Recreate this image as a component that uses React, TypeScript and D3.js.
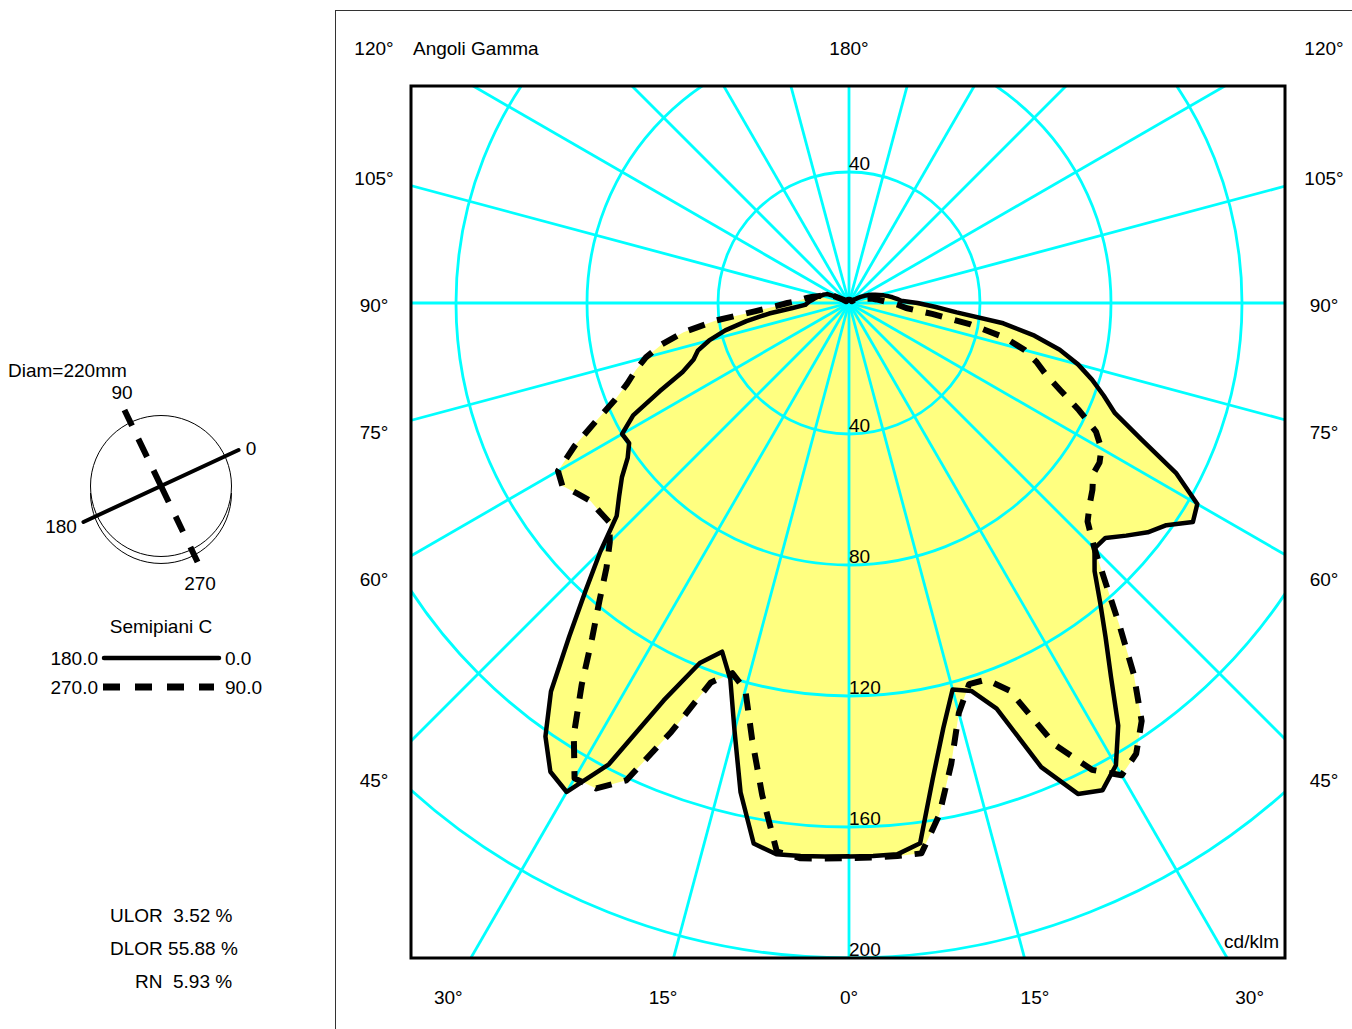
import React from "react";
import * as d3 from "d3";

// ---------- data ----------
const gammaAngles: number[] = d3.range(0, 180.001, 2.5);

// C180 (left, solid)
const intensityC180: number[] = [
  168.9, 169.2, 169.5, 169.8, 167.6, 153.0, 135.1, 120.5, 113.3, 119.0,
  133.9, 158.8, 172.4, 169.7, 161.6, 149.5, 132.9, 119.0, 107.4, 96.2,
  91.6, 87.4, 82.5, 79.6, 80.0, 74.3, 63.8, 55.0, 50.5, 48.4,
  44.2, 38.7, 31.8, 24.6, 17.3, 13.4, 12.7, 12.0, 11.2, 10.6,
  10.0, 9.4, 8.8, 8.3, 7.7, 7.1, 5.0, 2.5, 1.5, 1, 1, 1, 1, 1, 1, 1, 1, 1, 1,
  1, 1, 1, 1, 1, 1, 1, 1, 1, 1, 1, 1, 1, 1,
];
// C0 (right, solid)
const intensityC0: number[] = [
  169.0, 169.0, 169.0, 166.4, 147.4, 133.0, 122.2, 124.2, 131.8, 153.4,
  165.4, 167.7, 163.0, 153.0, 139.5, 128.7, 119.3, 111.0, 106.0, 106.2,
  110.5, 115.0, 118.3, 124.5, 122.8, 112.7, 98.5, 87.9, 82.8, 77.8,
  72.4, 65.9, 57.5, 47.5, 33.0, 26.2, 20.9, 15.9, 14.7, 13.4,
  12.1, 10.8, 9.5, 8.4, 7.3, 6.3, 5.2, 4.0, 3.0, 2.0, 1, 1, 1, 1, 1, 1, 1, 1, 1,
  1, 1, 1, 1, 1, 1, 1, 1, 1, 1, 1, 1, 1, 1,
];
// C270 (left, dashed)
const intensityC270: number[] = [
  169.5, 169.8, 170.2, 168.9, 152.6, 136.6, 122.3, 118.5, 123.3, 141.7,
  160.8, 167.1, 167.6, 156.4, 142.3, 128.8, 118.5, 109.6, 103.3, 99.2,
  99.3, 99.4, 101.4, 103.8, 102.6, 94.4, 85.2, 77.4, 72.1, 68.3,
  64.2, 58.6, 51.3, 41.0, 28.6, 22.4, 18.8, 15.4, 14.0, 12.6,
  11.2, 9.7, 8.6, 8.0, 7.5, 6.8, 5.0, 3.0, 2.0, 1, 1, 1, 1, 1, 1, 1, 1, 1, 1,
  1, 1, 1, 1, 1, 1, 1, 1, 1, 1, 1, 1, 1, 1,
];
// C90 (right, dashed)
const intensityC90: number[] = [
  169.5, 169.5, 169.5, 169.5, 158.7, 144.2, 129.6, 122.0, 122.4, 128.1,
  148.9, 160.7, 166.5, 163.2, 155.8, 142.8, 128.5, 116.0, 106.0, 98.8,
  95.9, 93.7, 91.0, 90.7, 89.0, 85.0, 77.5, 70.0, 64.0, 60.1,
  55.6, 48.6, 37.7, 25.6, 17.5, 15.3, 13.1, 11.0, 9.6, 8.4,
  7.3, 6.2, 5.0, 4.2, 3.5, 3.0, 2.5, 2.0, 1.5, 1, 1, 1, 1, 1, 1, 1, 1, 1, 1,
  1, 1, 1, 1, 1, 1, 1, 1, 1, 1, 1, 1, 1, 1,
];

const gridRadii: number[] = [40, 80, 120, 160, 200];
const bottomScaleLabels: number[] = [40, 80, 120, 160, 200];
const topScaleLabels: number[] = [40];
const radialLineAngles: number[] = d3.range(0, 360, 15);
const sideLabelAngles: number[] = [120, 105, 90, 75, 60, 45];
const bottomLabelAngles: number[] = [-30, -15, 0, 15, 30];
const statLines: string[] = ["ULOR  3.52 %", "DLOR 55.88 %", "RN  5.93 %"];

// ---------- layout ----------
const W = 1352;
const H = 1029;
const cx = 849;
const cy = 303;
const box = { x0: 411, y0: 86, x1: 1285, y1: 958 };
const FONT = "'Liberation Sans', Arial, Helvetica, sans-serif";
const FS = 19;
const CYAN = "#00ffff";
const YELLOW = "#ffff80";

const rScale = d3.scaleLinear().domain([0, 200]).range([0, 655]);
const rad = (deg: number) => (deg * Math.PI) / 180;

function polarPath(left: number[], right: number[]): string {
  const pts: [number, number][] = [];
  for (let i = gammaAngles.length - 1; i >= 0; i--)
    pts.push([Math.PI + rad(gammaAngles[i]), rScale(left[i])]);
  for (let i = 0; i < gammaAngles.length; i++)
    pts.push([Math.PI - rad(gammaAngles[i]), rScale(right[i])]);
  return (
    d3
      .lineRadial<[number, number]>()
      .angle((d) => d[0])
      .radius((d) => d[1])
      .curve(d3.curveLinear)(pts) || ""
  );
}

const solidPath = polarPath(intensityC180, intensityC0);
const dashedPath = polarPath(intensityC270, intensityC90);

const sideX = 475; // distance from centre to label column
const sideLabelY = (g: number) => Math.max(48, cy + sideX / Math.tan(rad(g)) + 2);
const bottomLabelX = (g: number) => cx + 694 * Math.tan(rad(g));

export default function App() {
  const txt = { fontFamily: FONT, fontSize: FS, fill: "#000" } as const;

  // disc schematic
  const dcx = 161;
  const dcy = 486;
  const dr = 70.5;
  const solidAng = rad(-24.9);
  const solidHalf = 85.5;
  const dashAng = rad(64.3);
  const dashHalf = 84.3;

  return (
    <svg
      width={W}
      height={H}
      viewBox={`0 0 ${W} ${H}`}
      style={{ position: "absolute", left: 0, top: 0, background: "#fff" }}
    >
      <rect x={0} y={0} width={W} height={H} fill="#fff" />
      {/* frame lines */}
      <line x1={335.5} y1={10} x2={335.5} y2={H} stroke="#333" strokeWidth={1} />
      <line x1={335} y1={10.5} x2={W} y2={10.5} stroke="#333" strokeWidth={1} />

      <defs>
        <clipPath id="plotClip">
          <rect x={box.x0} y={box.y0} width={box.x1 - box.x0} height={box.y1 - box.y0} />
        </clipPath>
      </defs>

      <g clipPath="url(#plotClip)">
        <g transform={`translate(${cx},${cy})`}>
          {/* fill (union of both curves) */}
          <path d={solidPath} fill={YELLOW} stroke="none" />
          <path d={dashedPath} fill={YELLOW} stroke="none" />
          {/* grid */}
          {gridRadii.map((v) => (
            <circle key={v} r={rScale(v)} fill="none" stroke={CYAN} strokeWidth={2.8} />
          ))}
          {radialLineAngles.map((a) => (
            <line
              key={a}
              x1={0}
              y1={0}
              x2={Math.sin(rad(a)) * 900}
              y2={Math.cos(rad(a)) * 900}
              stroke={CYAN}
              strokeWidth={2.8}
            />
          ))}
          {/* curves */}
          <path d={solidPath} fill="none" stroke="#000" strokeWidth={4.5} strokeLinejoin="round" />
          <path
            d={dashedPath}
            fill="none"
            stroke="#000"
            strokeWidth={6}
            strokeDasharray="17 13"
            strokeLinejoin="round"
          />
          {/* scale labels */}
          {bottomScaleLabels.map((v) => (
            <text key={"b" + v} x={0} y={rScale(v) - 2} {...txt}>
              {v}
            </text>
          ))}
          {topScaleLabels.map((v) => (
            <text key={"t" + v} x={0} y={-rScale(v) - 2} {...txt}>
              {v}
            </text>
          ))}
        </g>
      </g>

      {/* plot box */}
      <rect
        x={box.x0}
        y={box.y0}
        width={box.x1 - box.x0}
        height={box.y1 - box.y0}
        fill="none"
        stroke="#000"
        strokeWidth={3}
      />

      {/* angle labels */}
      <text x={413} y={48 + 7} {...txt}>
        Angoli Gamma
      </text>
      <text x={cx} y={48 + 7} textAnchor="middle" {...txt}>
        180°
      </text>
      {sideLabelAngles.map((g) => (
        <g key={"s" + g}>
          <text x={cx - sideX} y={sideLabelY(g) + 7} textAnchor="middle" {...txt}>
            {g}°
          </text>
          <text x={cx + sideX} y={sideLabelY(g) + 7} textAnchor="middle" {...txt}>
            {g}°
          </text>
        </g>
      ))}
      {bottomLabelAngles.map((g, i) => (
        <text key={"bl" + i} x={bottomLabelX(g)} y={997 + 7} textAnchor="middle" {...txt}>
          {Math.abs(g)}°
        </text>
      ))}
      <text x={1279} y={948} textAnchor="end" {...txt}>
        cd/klm
      </text>

      {/* left panel */}
      <text x={8} y={377} {...txt}>
        Diam=220mm
      </text>
      <circle cx={dcx} cy={dcy} r={dr} fill="none" stroke="#000" strokeWidth={1} />
      <path
        d={`M ${dcx - dr} ${dcy + 7} A ${dr} ${dr} 0 0 0 ${dcx + dr} ${dcy + 7}`}
        fill="none"
        stroke="#000"
        strokeWidth={1}
      />
      <line
        x1={dcx - Math.cos(solidAng) * solidHalf}
        y1={dcy - Math.sin(solidAng) * solidHalf}
        x2={dcx + Math.cos(solidAng) * solidHalf}
        y2={dcy + Math.sin(solidAng) * solidHalf}
        stroke="#000"
        strokeWidth={4}
        strokeLinecap="round"
      />
      <line
        x1={dcx - Math.cos(dashAng) * dashHalf}
        y1={dcy - Math.sin(dashAng) * dashHalf}
        x2={dcx + Math.cos(dashAng) * dashHalf}
        y2={dcy + Math.sin(dashAng) * dashHalf}
        stroke="#000"
        strokeWidth={6}
        strokeDasharray="17.5 14.5 20 15 35 16 17 17 17"
      />
      <text x={122} y={399} textAnchor="middle" {...txt}>
        90
      </text>
      <text x={251} y={455} textAnchor="middle" {...txt}>
        0
      </text>
      <text x={61} y={533} textAnchor="middle" {...txt}>
        180
      </text>
      <text x={200} y={590} textAnchor="middle" {...txt}>
        270
      </text>

      <text x={161} y={633} textAnchor="middle" {...txt}>
        Semipiani C
      </text>
      <text x={98} y={665} textAnchor="end" {...txt}>
        180.0
      </text>
      <line x1={104} y1={658} x2={219} y2={658} stroke="#000" strokeWidth={4.5} strokeLinecap="round" />
      <text x={225} y={665} {...txt}>
        0.0
      </text>
      <text x={98} y={694} textAnchor="end" {...txt}>
        270.0
      </text>
      <line x1={103} y1={687} x2={214} y2={687} stroke="#000" strokeWidth={7} strokeDasharray="17 15" />
      <text x={225} y={694} {...txt}>
        90.0
      </text>

      {statLines.map((s, i) => (
        <text
          key={s}
          x={i === 2 ? 135 : 110}
          y={922 + i * 33}
          style={{ whiteSpace: "pre" }}
          {...txt}
        >
          {s}
        </text>
      ))}
    </svg>
  );
}
